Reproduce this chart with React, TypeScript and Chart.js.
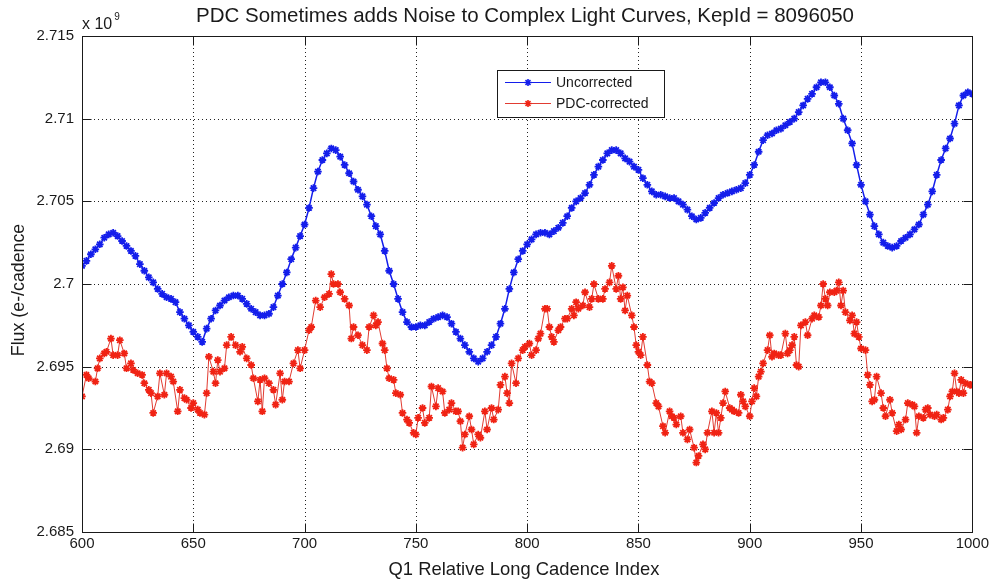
import { useEffect, useRef } from "react";
import { Chart, registerables } from "chart.js";

Chart.register(...registerables);

const TITLE = "PDC Sometimes adds Noise to Complex Light Curves, KepId = 8096050";
const X_LABEL = "Q1 Relative Long Cadence Index";
const Y_LABEL = "Flux (e-/cadence";
const Y_EXP_BASE = "x 10";
const Y_EXP_POWER = "9";
const SERIES_NAMES = ["Uncorrected", "PDC-corrected"];

const X_TICKS = [600, 650, 700, 750, 800, 850, 900, 950, 1000];
const Y_TICKS = [2.685, 2.69, 2.695, 2.7, 2.705, 2.71, 2.715];

// Uncorrected flux (x 10^9), one reading every 2 cadences from 600 to 1000
const BLUE_START = 600;
const BLUE_STEP = 2;
const blueFlux = [
  2.7011, 2.7014, 2.7018, 2.7021, 2.7024, 2.7028, 2.7030, 2.7031, 2.7029, 2.7026,
  2.7023, 2.7020, 2.7017, 2.7012, 2.7008, 2.7004, 2.7001, 2.6997, 2.6994, 2.6992,
  2.6991, 2.6989, 2.6983, 2.6979, 2.6975, 2.6971, 2.6968, 2.6965, 2.6973, 2.6979,
  2.6984, 2.6987, 2.6990, 2.6992, 2.6993, 2.6993, 2.6991, 2.6988, 2.6985, 2.6983,
  2.6981, 2.6981, 2.6982, 2.6986, 2.6993, 2.7000, 2.7007, 2.7015, 2.7022, 2.7029,
  2.7036, 2.7046, 2.7058, 2.7068, 2.7075, 2.7079, 2.7082, 2.7081, 2.7077, 2.7072,
  2.7067, 2.7062, 2.7057, 2.7053, 2.7048, 2.7041, 2.7035, 2.7030, 2.7020, 2.7008,
  2.7000, 2.6991, 2.6983, 2.6977, 2.6974, 2.6974, 2.6975, 2.6975, 2.6977, 2.6979,
  2.6980, 2.6981, 2.6980, 2.6976, 2.6971, 2.6967, 2.6963, 2.6959, 2.6955, 2.6953,
  2.6955, 2.6959, 2.6963, 2.6968, 2.6976, 2.6985, 2.6997, 2.7007, 2.7015, 2.7020,
  2.7024, 2.7027, 2.7030, 2.7031, 2.7031, 2.7030, 2.7032, 2.7034, 2.7037, 2.7041,
  2.7046, 2.7050, 2.7052, 2.7055, 2.7060, 2.7066, 2.7071, 2.7075, 2.7079, 2.7081,
  2.7081, 2.7079, 2.7076, 2.7074, 2.7071, 2.7069, 2.7064, 2.7060, 2.7056, 2.7054,
  2.7054, 2.7053, 2.7052, 2.7052, 2.7050, 2.7048, 2.7045, 2.7041, 2.7039, 2.7040,
  2.7043, 2.7046, 2.7049, 2.7052, 2.7054, 2.7055, 2.7056, 2.7057, 2.7058, 2.7061,
  2.7066, 2.7072, 2.7080, 2.7087, 2.7090, 2.7091, 2.7093, 2.7094, 2.7096, 2.7098,
  2.7100, 2.7104, 2.7108, 2.7112, 2.7115, 2.7119, 2.7122, 2.7122, 2.7119, 2.7114,
  2.7109, 2.7100, 2.7093, 2.7085, 2.7072, 2.7060, 2.7050, 2.7042, 2.7035, 2.7030,
  2.7025, 2.7023, 2.7022, 2.7023, 2.7026, 2.7028, 2.7030, 2.7033, 2.7036, 2.7042,
  2.7048, 2.7056, 2.7066, 2.7075, 2.7082, 2.7088, 2.7097, 2.7108, 2.7114, 2.7116,
  2.7115,
];
const blueIndex = blueFlux.map((_, i) => BLUE_START + BLUE_STEP * i);

// PDC-corrected flux (x 10^9)
const redIndex = [
  600, 602, 603, 606, 607, 608, 610, 611, 613, 614, 616, 617, 619, 620, 622, 623, 625, 627, 628, 630,
  631, 632, 634, 635, 637, 638, 640, 641, 643, 644, 646, 647, 649, 650, 652, 653, 655, 656, 657, 659,
  660, 661, 662, 664, 665, 667, 669, 671, 672, 674, 676, 677, 679, 680, 681, 682, 684, 686, 687, 689,
  690, 691, 693, 695, 697, 698, 700, 702, 703, 705, 707, 709, 711, 712, 713, 715, 716, 718, 720, 721,
  722, 724, 726, 728, 729, 731, 732, 733, 735, 736, 737, 738, 740, 741, 743, 744, 746, 747, 749, 750,
  751, 753, 754, 756, 757, 759, 760, 762, 763, 765, 766, 768, 769, 770, 771, 772, 774, 775, 776, 778,
  779, 781, 782, 784, 785, 787, 788, 790, 791, 792, 793, 795, 796, 798, 799, 801, 802, 804, 805, 806,
  808, 809, 810, 811, 812, 814, 815, 817, 818, 820, 821, 822, 823, 825, 826, 828, 829, 830, 832, 834,
  835, 837, 838, 840, 841, 842, 843, 844, 845, 847, 848, 849, 850, 851, 852, 854, 855, 856, 858, 859,
  861, 862, 864, 865, 866, 867, 869, 870, 872, 873, 875, 876, 877, 879, 880, 881, 883, 884, 885, 886,
  887, 888, 889, 891, 892, 893, 895, 896, 897, 898, 900, 901, 902, 903, 904, 905, 906, 908, 909, 910,
  911, 913, 914, 916, 917, 918, 919, 920, 921, 922, 923, 925, 926, 928, 929, 931, 932, 933, 934, 935,
  936, 938, 939, 940, 941, 942, 943, 945, 946, 947, 948, 949, 950, 952, 953, 954, 955, 956, 957, 959,
  960, 961, 963, 964, 966, 967, 968, 970, 971, 973, 974, 975, 976, 978, 979, 980, 981, 983, 984, 986,
  987, 989, 990, 991, 992, 993, 994, 995, 996, 997, 999, 1000,
];
const redFlux = [
  2.6932, 2.6945, 2.6943, 2.6941, 2.6949, 2.6955, 2.6958, 2.6959, 2.6967, 2.6957, 2.6957, 2.6966, 2.6958, 2.6949, 2.6952, 2.6948, 2.6946, 2.6945, 2.6940, 2.6936,
  2.6934, 2.6922, 2.6932, 2.6946, 2.6933, 2.6946, 2.6944, 2.6941, 2.6923, 2.6936, 2.6931, 2.6930, 2.6925, 2.6928, 2.6924, 2.6922, 2.6921, 2.6934, 2.6956, 2.6947,
  2.6940, 2.6954, 2.6947, 2.6949, 2.6963, 2.6968, 2.6963, 2.6959, 2.6962, 2.6955, 2.6951, 2.6943, 2.6929, 2.6942, 2.6923, 2.6943, 2.6940, 2.6936, 2.6927, 2.6946,
  2.6930, 2.6941, 2.6941, 2.6952, 2.6960, 2.6949, 2.6960, 2.6972, 2.6974, 2.6990, 2.6986, 2.6992, 2.6994, 2.7006, 2.7000, 2.7000, 2.6995, 2.6991, 2.6987, 2.6967,
  2.6974, 2.6969, 2.6963, 2.6960, 2.6974, 2.6981, 2.6975, 2.6977, 2.6964, 2.6960, 2.6949, 2.6943, 2.6942, 2.6934, 2.6933, 2.6922, 2.6918, 2.6916, 2.6910, 2.6909,
  2.6919, 2.6925, 2.6916, 2.6919, 2.6938, 2.6926, 2.6937, 2.6935, 2.6922, 2.6924, 2.6928, 2.6923, 2.6923, 2.6917, 2.6901, 2.6909, 2.6920, 2.6912, 2.6903, 2.6909,
  2.6907, 2.6923, 2.6912, 2.6925, 2.6918, 2.6924, 2.6939, 2.6944, 2.6934, 2.6928, 2.6952, 2.6940, 2.6955, 2.6960, 2.6962, 2.6964, 2.6957, 2.6960, 2.6967, 2.6970,
  2.6985, 2.6985, 2.6974, 2.6968, 2.6965, 2.6972, 2.6974, 2.6979, 2.6979, 2.6985, 2.6981, 2.6989, 2.6985, 2.6987, 2.6995, 2.6986, 2.6991, 2.7000, 2.6991, 2.6991,
  2.6997, 2.7001, 2.7011, 2.6997, 2.7005, 2.6991, 2.6998, 2.6984, 2.6993, 2.6981, 2.6974, 2.6963, 2.6959, 2.6957, 2.6968, 2.6951, 2.6941, 2.6940, 2.6928, 2.6926,
  2.6914, 2.6910, 2.6923, 2.6920, 2.6919, 2.6915, 2.6920, 2.6910, 2.6906, 2.6912, 2.6901, 2.6892, 2.6896, 2.6903, 2.6900, 2.6910, 2.6923, 2.6910, 2.6922, 2.6910,
  2.6919, 2.6928, 2.6935, 2.6925, 2.6924, 2.6923, 2.6922, 2.6933, 2.6929, 2.6926, 2.6920, 2.6929, 2.6937, 2.6932, 2.6944, 2.6947, 2.6952, 2.6960, 2.6969, 2.6956,
  2.6958, 2.6957, 2.6957, 2.6970, 2.6958, 2.6960, 2.6963, 2.6968, 2.6951, 2.6950, 2.6975, 2.6977, 2.6969, 2.6979, 2.6981, 2.6980, 2.6987, 2.7000, 2.6991, 2.6987,
  2.6995, 2.6995, 2.6996, 2.7001, 2.6987, 2.6996, 2.6983, 2.6978, 2.6981, 2.6970, 2.6977, 2.6968, 2.6961, 2.6960, 2.6945, 2.6939, 2.6929, 2.6930, 2.6944, 2.6934,
  2.6925, 2.6920, 2.6930, 2.6922, 2.6911, 2.6915, 2.6912, 2.6918, 2.6928, 2.6927, 2.6926, 2.6910, 2.6920, 2.6919, 2.6924, 2.6925, 2.6921, 2.6920, 2.6921, 2.6918,
  2.6919, 2.6924, 2.6932, 2.6935, 2.6946, 2.6935, 2.6934, 2.6942, 2.6934, 2.6940, 2.6939, 2.6939,
];

const BLUE = "rgb(20,30,235)";
const RED = "rgb(240,35,20)";
const RED_LINE = "rgb(225,60,50)";
const INK = "#1a1a1a";
const FONT = "'Liberation Sans', Arial, Helvetica, sans-serif";

function drawStar(ctx: CanvasRenderingContext2D, x: number, y: number, r: number, color: string) {
  ctx.save();
  ctx.strokeStyle = color;
  ctx.lineWidth = 1.6;
  ctx.beginPath();
  ctx.moveTo(x - r, y); ctx.lineTo(x + r, y);
  ctx.moveTo(x, y - r); ctx.lineTo(x, y + r);
  const d = r * 0.7071;
  ctx.moveTo(x - d, y - d); ctx.lineTo(x + d, y + d);
  ctx.moveTo(x - d, y + d); ctx.lineTo(x + d, y - d);
  ctx.stroke();
  ctx.restore();
}

const decorPlugin = {
  id: "decor",
  beforeDatasetsDraw(chart: any) {
    const { ctx, chartArea: a, scales } = chart;
    ctx.save();
    ctx.strokeStyle = "#222";
    ctx.lineWidth = 1;
    ctx.setLineDash([1, 3]);
    X_TICKS.forEach((v) => {
      const px = Math.round(scales.x.getPixelForValue(v)) + 0.5;
      ctx.beginPath(); ctx.moveTo(px, a.top); ctx.lineTo(px, a.bottom); ctx.stroke();
    });
    Y_TICKS.forEach((v) => {
      const py = Math.round(scales.y.getPixelForValue(v)) + 0.5;
      ctx.beginPath(); ctx.moveTo(a.left, py); ctx.lineTo(a.right, py); ctx.stroke();
    });
    ctx.restore();
  },
  afterDatasetsDraw(chart: any) {
    const { ctx, chartArea: a, scales } = chart;
    ctx.save();
    ctx.strokeStyle = INK;
    ctx.lineWidth = 1;
    ctx.setLineDash([]);
    const L = Math.round(a.left) + 0.5, R = Math.round(a.right) + 0.5;
    const T = Math.round(a.top) + 0.5, B = Math.round(a.bottom) + 0.5;
    ctx.strokeRect(L, T, R - L, B - T);
    const tick = 9;
    ctx.beginPath();
    X_TICKS.forEach((v) => {
      const px = Math.round(scales.x.getPixelForValue(v)) + 0.5;
      ctx.moveTo(px, B); ctx.lineTo(px, B - tick);
      ctx.moveTo(px, T); ctx.lineTo(px, T + tick);
    });
    Y_TICKS.forEach((v) => {
      const py = Math.round(scales.y.getPixelForValue(v)) + 0.5;
      ctx.moveTo(L, py); ctx.lineTo(L + tick, py);
      ctx.moveTo(R, py); ctx.lineTo(R - tick, py);
    });
    ctx.stroke();

    // legend
    const lx = 497.5, ly = 70.5, lw = 167, lh = 47;
    ctx.fillStyle = "#fff";
    ctx.fillRect(lx, ly, lw, lh);
    ctx.strokeStyle = INK;
    ctx.strokeRect(lx, ly, lw, lh);
    const entries = [
      { name: SERIES_NAMES[0], line: BLUE, mark: BLUE, y: 82 },
      { name: SERIES_NAMES[1], line: RED_LINE, mark: RED, y: 103 },
    ];
    ctx.font = `14px ${FONT}`;
    ctx.textAlign = "left";
    ctx.textBaseline = "middle";
    entries.forEach((e) => {
      ctx.strokeStyle = e.line;
      ctx.lineWidth = 1.2;
      ctx.beginPath(); ctx.moveTo(505, e.y + 0.5); ctx.lineTo(551, e.y + 0.5); ctx.stroke();
      drawStar(ctx, 528, e.y + 0.5, 3.5, e.mark);
      ctx.fillStyle = INK;
      ctx.fillText(e.name, 556, e.y + 1);
    });
    ctx.restore();
  },
  afterDraw(chart: any) {
    const { ctx, chartArea: a } = chart;
    ctx.save();
    ctx.fillStyle = INK;
    ctx.textBaseline = "middle";
    ctx.textAlign = "center";
    ctx.font = `20.5px ${FONT}`;
    ctx.fillText(TITLE, 525, 16);
    ctx.font = `18.4px ${FONT}`;
    ctx.fillText(X_LABEL, 524, 570);
    ctx.save();
    ctx.translate(19, 290);
    ctx.rotate(-Math.PI / 2);
    ctx.font = `17.8px ${FONT}`;
    ctx.fillText(Y_LABEL, 0, 0);
    ctx.restore();
    ctx.textAlign = "left";
    ctx.textBaseline = "alphabetic";
    ctx.font = `16px ${FONT}`;
    ctx.fillText(Y_EXP_BASE, a.left, 29);
    const w = ctx.measureText(Y_EXP_BASE).width;
    ctx.font = `10px ${FONT}`;
    ctx.fillText(Y_EXP_POWER, a.left + w + 2, 20);
    ctx.restore();
  },
};

export default function App() {
  const ref = useRef<HTMLCanvasElement>(null);
  useEffect(() => {
    document.body.style.margin = "0";
    const canvas = ref.current;
    if (!canvas) return;
    const chart = new Chart(canvas, {
      type: "line",
      data: {
        datasets: [
          {
            label: SERIES_NAMES[0],
            data: blueIndex.map((x, i) => ({ x, y: blueFlux[i] })),
            borderColor: BLUE,
            backgroundColor: BLUE,
            borderWidth: 1.5,
            pointStyle: "star",
            pointRadius: 3.8,
            pointBorderWidth: 1.8,
            pointBorderColor: BLUE,
            pointBackgroundColor: BLUE,
            tension: 0,
          },
          {
            label: SERIES_NAMES[1],
            data: redIndex.map((x, i) => ({ x, y: redFlux[i] })),
            borderColor: RED_LINE,
            backgroundColor: RED,
            borderWidth: 1,
            pointStyle: "star",
            pointRadius: 3.8,
            pointBorderWidth: 1.8,
            pointBorderColor: RED,
            pointBackgroundColor: RED,
            tension: 0,
          },
        ],
      },
      options: {
        responsive: false,
        animation: false,
        events: [],
        layout: { padding: { top: 36, right: 19, bottom: 0, left: 0 } },
        plugins: {
          legend: { display: false },
          title: { display: false },
          tooltip: { enabled: false },
        },
        scales: {
          x: {
            type: "linear",
            min: 600,
            max: 1000,
            afterBuildTicks: (s: any) => { s.ticks = X_TICKS.map((v) => ({ value: v })); },
            grid: { display: false, drawTicks: false },
            border: { display: false },
            ticks: {
              padding: 3,
              color: INK,
              font: { family: FONT, size: 15 },
              maxRotation: 0,
              autoSkip: false,
              callback: (v: any) => String(v),
            },
            afterFit: (s: any) => { s.height = 50; },
          },
          y: {
            type: "linear",
            min: 2.685,
            max: 2.715,
            afterBuildTicks: (s: any) => { s.ticks = Y_TICKS.map((v) => ({ value: v })); },
            grid: { display: false, drawTicks: false },
            border: { display: false },
            ticks: {
              padding: 8,
              color: INK,
              font: { family: FONT, size: 15 },
              autoSkip: false,
              callback: (v: any) => String(Number(Number(v).toFixed(3))),
            },
            afterFit: (s: any) => { s.width = 82; },
          },
        },
      },
      plugins: [decorPlugin],
    } as any);
    return () => chart.destroy();
  }, []);
  return <canvas ref={ref} width={992} height={582} style={{ display: "block" }} />;
}
